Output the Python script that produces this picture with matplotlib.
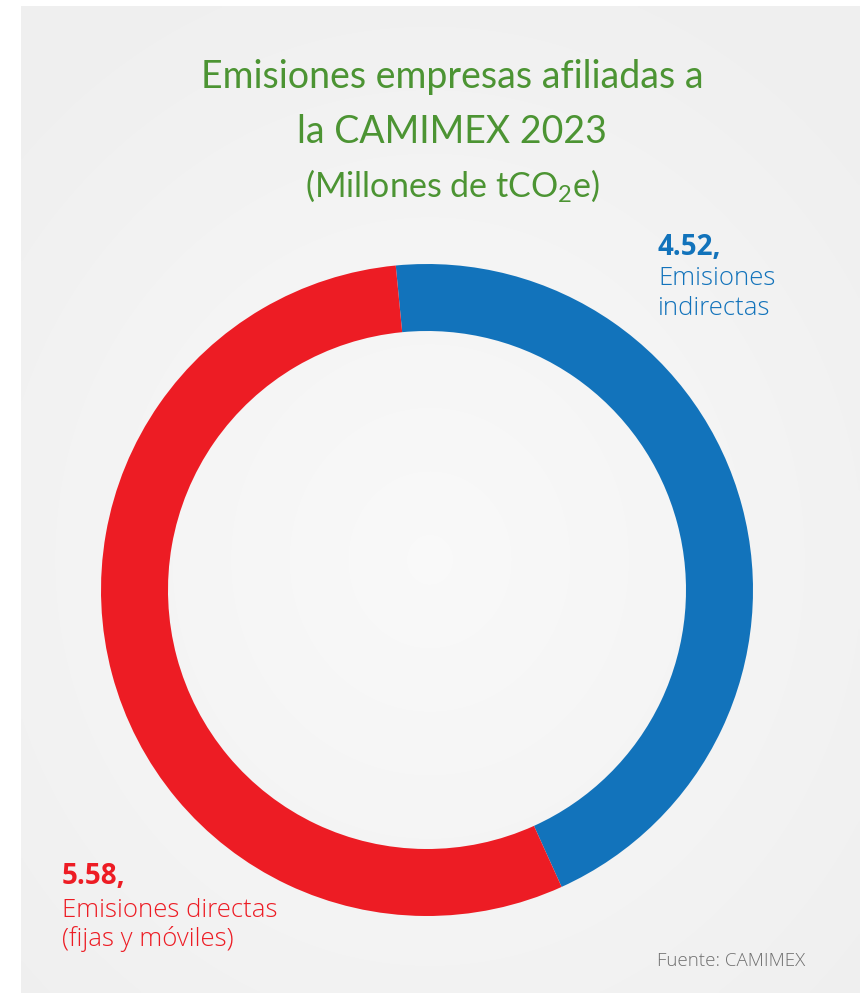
import numpy as np
import matplotlib
matplotlib.use("Agg")
import matplotlib.pyplot as plt

# Data
categories = ["Emisiones indirectas", "Emisiones directas\n(fijas y móviles)"]
values = [4.52, 5.58]
colors = ["#1273bb", "#ed1c24"]
title_lines = ["Emisiones empresas afiliadas a", "la CAMIMEX 2023"]
subtitle = "(Millones de tCO$_{2}$e)"
source = "Fuente: CAMIMEX"

W, H = 860, 993
plt.rcParams["mathtext.default"] = "regular"
fig = plt.figure(figsize=(W / 100, H / 100), dpi=100)
fig.patch.set_facecolor("white")

ax = fig.add_axes([0, 0, 1, 1])
ax.set_xlim(0, W)
ax.set_ylim(0, H)
ax.set_aspect("equal")
ax.axis("off")

# background panel with soft radial gradient
x0, x1, ytop, ybot = 21, W, 6, H
gx = np.linspace(x0, x1, 300)
gy = np.linspace(H - ytop, H - ybot, 340)
GX, GY = np.meshgrid(gx, gy)
cx, cy = 430, H - 560
d = np.sqrt(((GX - cx) / 600) ** 2 + ((GY - cy) / 650) ** 2)
d = np.clip(d, 0, 1)
val = 0.978 - 0.040 * d
img = np.dstack([val, val, val])
ax.imshow(img, extent=(x0, x1, H - ybot, H - ytop), origin="upper",
          zorder=0, interpolation="bilinear", aspect="auto")

# donut
ccx, ccy = 427, H - 590
R, w = 326, 67
ax.pie(values, colors=colors, startangle=95.5, counterclock=False,
       center=(ccx, ccy), radius=R,
       wedgeprops=dict(width=w, edgecolor="none", linewidth=0))
ax.set_xlim(0, W)
ax.set_ylim(0, H)
ax.set_aspect("equal")
ax.axis("off")

def fy(py):
    return 1 - py / H

green = "#4c9433"
tfam = ["Lato", "DejaVu Sans"]
fig.text(452 / W, fy(88), title_lines[0], ha="center", va="baseline",
         fontsize=27, color=green, family=tfam)
fig.text(452 / W, fy(143), title_lines[1], ha="center", va="baseline",
         fontsize=27, color=green, family=tfam)
fig.text(452 / W, fy(197), subtitle, ha="center", va="baseline",
         fontsize=24.5, color=green, family=tfam)

lfam = ["Open Sans", "DejaVu Sans"]
fig.text(658 / W, fy(255), f"{values[0]:.2f},", ha="left", va="baseline",
         fontsize=20, fontweight="bold", color=colors[0], family=lfam)
for i, line in enumerate(categories[0].split(" ")):
    fig.text(658 / W, fy(285 + 30 * i), line, ha="left", va="baseline",
             fontsize=18.5, fontweight="light", color=colors[0], family=lfam)

fig.text(62 / W, fy(884), f"{values[1]:.2f},", ha="left", va="baseline",
         fontsize=20, fontweight="bold", color=colors[1], family=lfam)
for i, line in enumerate(categories[1].split("\n")):
    fig.text(62 / W, fy(917 + 29 * i), line, ha="left", va="baseline",
             fontsize=18.5, fontweight="light", color=colors[1], family=lfam)

fig.text(657 / W, fy(966), source, ha="left", va="baseline",
         fontsize=13.5, fontweight="light", color="#707070", family=lfam)

fig.savefig("out.png", dpi=100)
